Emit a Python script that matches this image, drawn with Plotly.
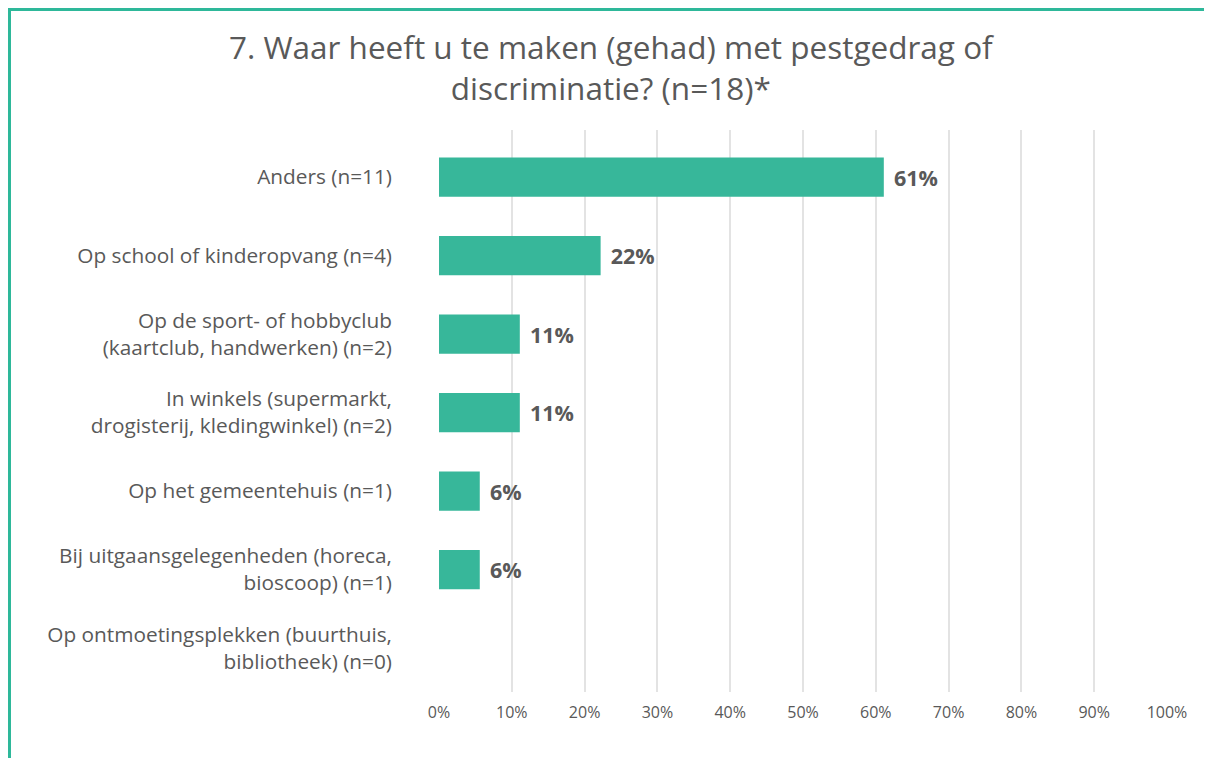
import plotly.graph_objects as go

categories = [
    "Anders (n=11)",
    "Op school of kinderopvang (n=4)",
    "Op de sport- of hobbyclub<br>(kaartclub, handwerken) (n=2)",
    "In winkels (supermarkt,<br>drogisterij, kledingwinkel) (n=2)",
    "Op het gemeentehuis (n=1)",
    "Bij uitgaansgelegenheden (horeca,<br>bioscoop) (n=1)",
    "Op ontmoetingsplekken (buurthuis,<br>bibliotheek) (n=0)",
]
values = [61.1, 22.2, 11.1, 11.1, 5.6, 5.6, 0.0]
value_labels = ["61%", "22%", "11%", "11%", "6%", "6%", ""]
x_ticks = [0, 10, 20, 30, 40, 50, 60, 70, 80, 90, 100]
title_text = "7. Waar heeft u te maken (gehad) met pestgedrag of<br>discriminatie? (n=18)*"

TEAL = "#37B79A"
GREY = "#595959"
FRAME = "#2EB89A"
FONT = "Open Sans"

# figure geometry (page is offset by the 8px body margin)
W, H = 1204, 750
L, R, T, B = 431, 45, 122, 66
PW = W - L - R
PH = H - T - B


def px_x(fx):
    return (fx - L) / PW


def px_y(fy):
    return (H - B - fy) / PH


positions = list(range(len(categories)))

fig = go.Figure()
fig.add_trace(go.Bar(
    x=values,
    y=positions,
    orientation="h",
    width=0.5,
    marker=dict(color=TEAL, line=dict(width=0)),
    text=value_labels,
    texttemplate="\u2009\u2009%{text}",
    textposition="outside",
    textfont=dict(family=FONT, size=21.5, color=GREY, weight="bold"),
    cliponaxis=False,
    hoverinfo="skip",
))

fig.update_layout(
    width=W,
    height=H,
    paper_bgcolor="white",
    plot_bgcolor="white",
    margin=dict(l=L, r=R, t=T, b=B),
    showlegend=False,
    xaxis=dict(
        range=[0, 100],
        tickvals=x_ticks,
        ticktext=[f"{v}%" for v in x_ticks],
        showgrid=True,
        gridcolor="#E3E3E3",
        gridwidth=1.6,
        zeroline=False,
        showline=False,
        ticks="",
        tickfont=dict(family=FONT, size=16, color=GREY),
        ticklabelstandoff=9,
        fixedrange=True,
    ),
    yaxis=dict(
        range=[6.56, -0.6],
        tickvals=positions,
        ticktext=categories,
        showgrid=False,
        zeroline=False,
        showline=False,
        ticks="",
        tickfont=dict(family=FONT, size=20.8, color=GREY),
        ticklabelstandoff=46,
        fixedrange=True,
    ),
    annotations=[
        dict(
            text=title_text,
            xref="paper", yref="paper",
            x=px_x(604), y=px_y(59),
            xanchor="center", yanchor="middle",
            showarrow=False,
            align="center",
            font=dict(family=FONT, size=31.5, color=GREY),
        )
    ],
    shapes=[
        dict(
            type="line",
            xref="paper", yref="paper",
            x0=px_x(1), x1=px_x(1260),
            y0=px_y(1), y1=px_y(1),
            line=dict(color=FRAME, width=4),
            layer="below",
        ),
        dict(
            type="line",
            xref="paper", yref="paper",
            x0=px_x(1), x1=px_x(1),
            y0=px_y(800), y1=px_y(-1),
            line=dict(color=FRAME, width=4),
            layer="below",
        ),
    ],
)

fig.write_html("out.html")
